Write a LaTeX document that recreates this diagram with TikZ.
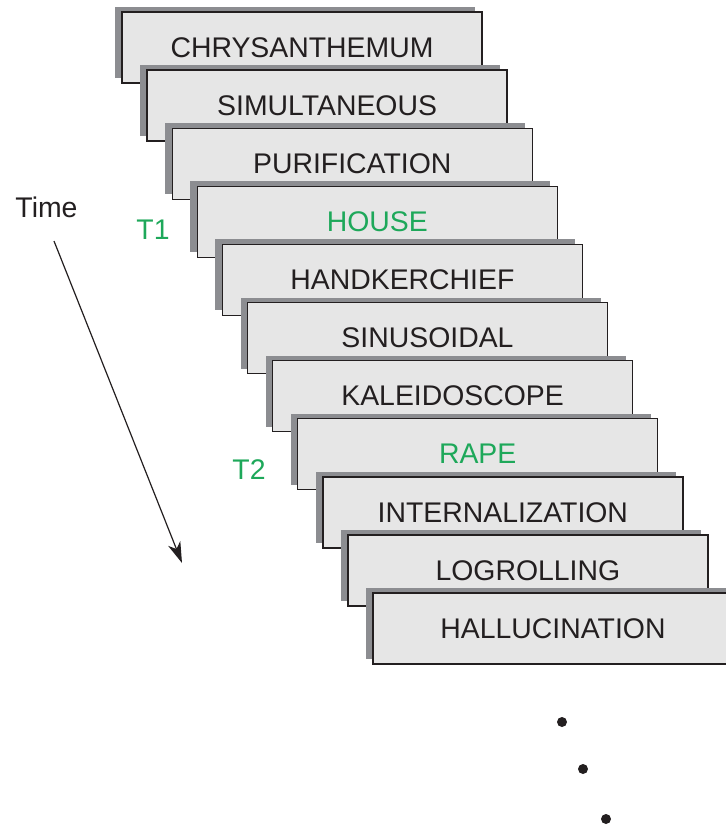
\documentclass[tikz,border=0pt]{standalone}
\usepackage{fontspec}
\setmainfont{Liberation Sans}
\usepackage{xcolor}
\usetikzlibrary{arrows.meta,positioning,shadows}

\definecolor{cardgray}{RGB}{230,230,230}
\definecolor{shadowgray}{RGB}{140,141,145}
\definecolor{probegreen}{RGB}{30,168,90}
\definecolor{inkgray}{RGB}{35,31,32}

\begin{document}
\begin{tikzpicture}[
  x=0.5pt, y=-0.5pt,
  node distance=29.05pt and 12.55pt, on grid,
  card/.style={draw=inkgray, line width=0.7pt, fill=cardgray, minimum width=180pt, minimum height=35.5pt, inner sep=0pt, font=\fontsize{14.2}{17}\selectfont, text=inkgray, general shadow={draw=none, fill=shadowgray, shadow xshift=-3.5pt, shadow yshift=2.5pt}},
  probe/.style={font=\fontsize{14.2}{17}\selectfont, text=probegreen, inner sep=0pt},
  timelabel/.style={font=\fontsize{14.2}{17}\selectfont, text=inkgray, inner sep=0pt},
  dot/.style={circle, fill=inkgray, minimum size=5pt, inner sep=0pt},
  timearrow/.style={-{Stealth[length=10.5pt, width=6.5pt, inset=3pt]}, line width=0.6pt, draw=inkgray},
]
  \useasboundingbox (0,0) rectangle (726,826);

  \node[card] (chrys) at (302,47.5) {CHRYSANTHEMUM};
  \node[card, below right=of chrys] (simul) {SIMULTANEOUS};
  \node[card, below right=of simul] (purif) {PURIFICATION};
  \node[card, below right=of purif, text=probegreen] (house) {HOUSE};
  \node[card, below right=of house] (handk) {HANDKERCHIEF};
  \node[card, below right=of handk] (sinus) {SINUSOIDAL};
  \node[card, below right=of sinus] (kalei) {KALEIDOSCOPE};
  \node[card, below right=of kalei, text=probegreen] (rape) {RAPE};
  \node[card, below right=of rape] (inter) {INTERNALIZATION};
  \node[card, below right=of inter] (logro) {LOGROLLING};
  \node[card, below right=of logro] (hallu) {HALLUCINATION};

  \node[timelabel, anchor=base] (time) at (46.5,217) {Time};
  \node[probe, anchor=base] (tone) at (153,239) {T1};
  \node[probe, anchor=base] (ttwo) at (249,479) {T2};

  \coordinate (tstart) at (54,241);
  \coordinate (tend) at (182,563);
  \draw[timearrow] (tstart) -- (tend);

  \node[dot] (more1) at (562,722) {};
  \node[dot] (more2) at (583,769) {};
  \node[dot] (more3) at (606,819) {};
\end{tikzpicture}
\end{document}
